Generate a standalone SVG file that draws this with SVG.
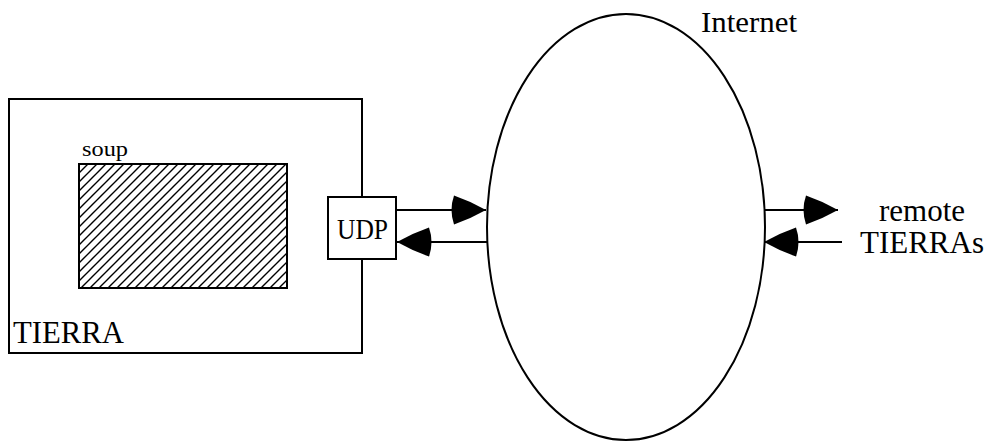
<svg xmlns="http://www.w3.org/2000/svg" width="989" height="441" viewBox="0 0 989 441">
  <style>
    .box { fill: #fff; stroke: #000; stroke-width: 2; }
    .lbl { font-family: "Liberation Serif", "Times New Roman", serif; fill: #000; }
    .conn { stroke: #000; stroke-width: 2; fill: none; marker-end: url(#head); }
  </style>
  <defs>
    <pattern id="hatch" patternUnits="userSpaceOnUse" width="9" height="9">
      <path d="M-1,1 L1,-1 M0,9 L9,0 M8,10 L10,8" stroke="#000" stroke-width="1.4"/>
    </pattern>
    <marker id="head" markerUnits="userSpaceOnUse" viewBox="-6 -2 41 32" markerWidth="41" markerHeight="32" refX="33" refY="14" orient="auto">
      <path d="M33,14 Q17,5 1,-0.5 Q-4,14 1,28.5 Q17,23 33,14 Z" fill="#000"/>
    </marker>
  </defs>
  <rect width="989" height="441" fill="#fff"/>

  <g id="tierra">
    <rect class="box" x="9" y="99" width="353" height="254"/>
    <text class="lbl" x="13" y="343" font-size="31" textLength="111" lengthAdjust="spacingAndGlyphs">TIERRA</text>
  </g>

  <g id="soup">
    <rect x="79" y="164" width="208" height="124" fill="url(#hatch)" stroke="#000" stroke-width="2"/>
    <text class="lbl" x="82" y="156" font-size="21" textLength="46" lengthAdjust="spacingAndGlyphs">soup</text>
  </g>

  <g id="udp">
    <rect class="box" x="328" y="197" width="68" height="62"/>
    <text class="lbl" x="337" y="239" font-size="30" textLength="51" lengthAdjust="spacingAndGlyphs">UDP</text>
  </g>

  <g id="internet">
    <ellipse cx="626" cy="227" rx="139" ry="213" fill="none" stroke="#000" stroke-width="2"/>
    <text class="lbl" x="701" y="32" font-size="30" textLength="96" lengthAdjust="spacingAndGlyphs">Internet</text>
  </g>

  <g id="remote">
    <text class="lbl" x="922" y="221" font-size="31" text-anchor="middle">remote</text>
    <text class="lbl" x="922" y="253" font-size="31" text-anchor="middle">TIERRAs</text>
  </g>

  <g id="connectors">
    <path class="conn" d="M397,210 L486,210"/>
    <path class="conn" d="M487,242 L397,242"/>
    <path class="conn" d="M764,210 L838,210"/>
    <path class="conn" d="M842,242 L764,242"/>
  </g>
</svg>
